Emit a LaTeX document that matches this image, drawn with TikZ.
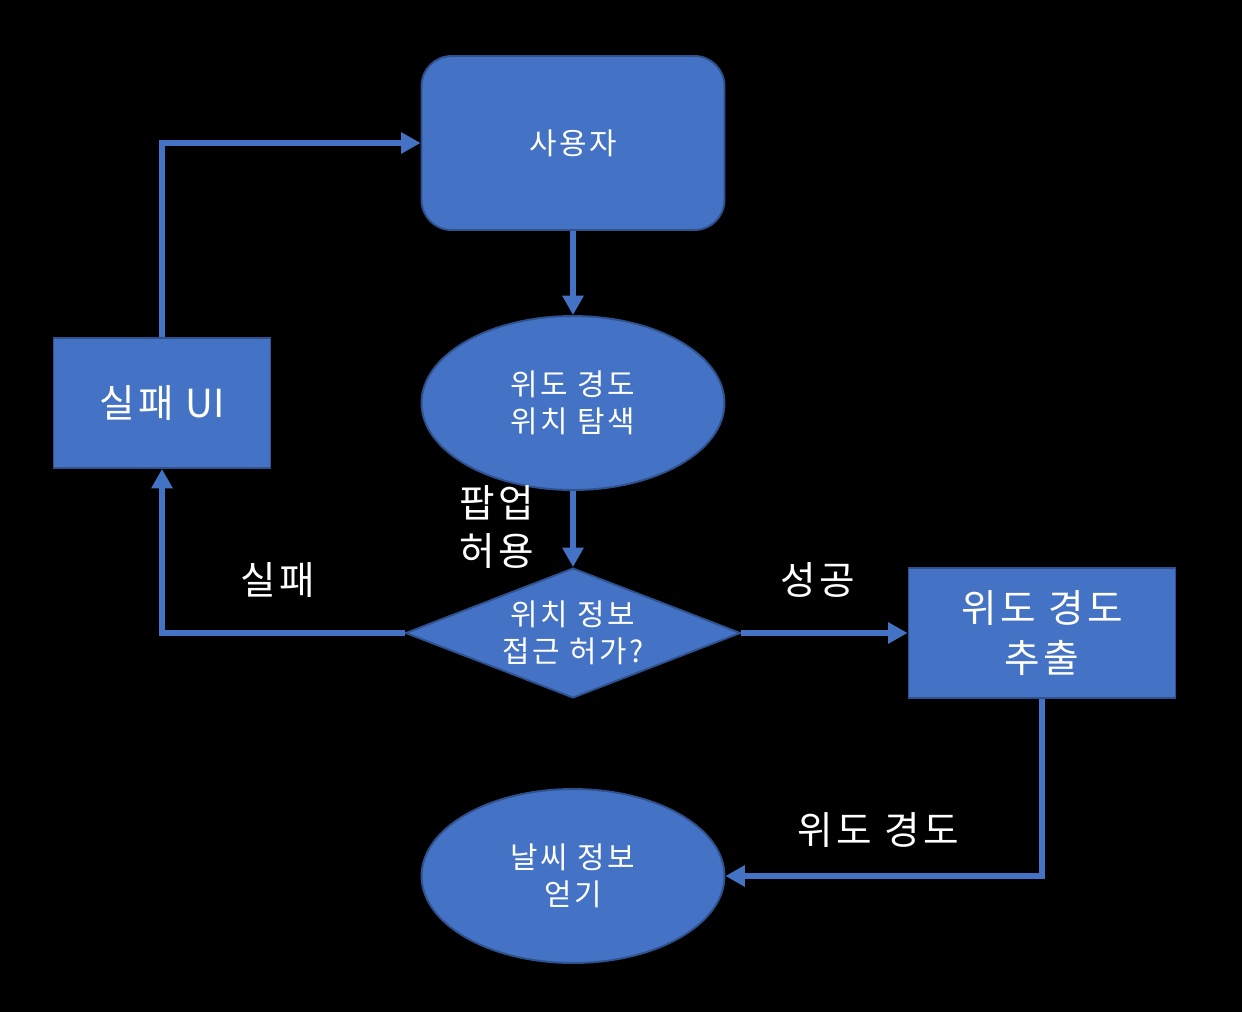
\documentclass[tikz,border=0pt]{standalone}
\usepackage{fontspec}
\setmainfont[LetterSpace=9]{Noto Sans CJK KR}
\newfontfamily\latinpart{Noto Sans CJK KR}
\usetikzlibrary{shapes.geometric, arrows.meta}
\definecolor{boxblue}{HTML}{4472C4}
\definecolor{boxline}{HTML}{2F528F}

\tikzset{
	blockbox/.style={draw=boxline, fill=boxblue, line width=1.1pt, text=white, inner sep=0pt, align=center},
	midfont/.style={font=\fontsize{17}{21}\selectfont},
	bigfont/.style={font=\fontsize{22}{28}\selectfont},
	flow/.style={draw=boxblue, line width=3pt, -{Triangle[length=11pt,width=11.5pt]}},
	flowlabel/.style={text=white, bigfont, inner sep=0pt}
}

\begin{document}
\begin{tikzpicture}[x=0.02cm, y=-0.02cm]
	%background
	\fill[black] (0,0) rectangle (1242,1012);
	
	%shapes
	\node[blockbox, midfont, rectangle, rounded corners=0.6cm, minimum width=6.06cm, minimum height=3.48cm] (user) at (573,143) {사용자};
	\node[blockbox, midfont, ellipse, minimum width=6.06cm, minimum height=3.48cm] (search) at (573,403) {위도 경도\\위치 탐색};
	\node[blockbox, midfont, diamond, aspect=2.58, minimum width=6.7cm, minimum height=2.6cm] (permit) at (573,633) {위치 정보\\접근 허가?};
	\node[blockbox, bigfont, rectangle, minimum width=4.34cm, minimum height=2.6cm] (failui) at (162,403) {실패 {\latinpart UI}};
	\node[blockbox, bigfont, rectangle, minimum width=5.34cm, minimum height=2.6cm] (extract) at (1042,633) {위도 경도\\추출};
	\node[blockbox, midfont, ellipse, minimum width=6.06cm, minimum height=3.48cm] (weather) at (573,876) {날씨 정보\\얻기};
	
	%connectors
	\draw[flow] (user.south) -- (search.north);
	\draw[flow] (search.south) -- (permit.north);
	\draw[flow] (permit.west) -| (failui.south);
	\draw[flow] (failui.north) |- (user.west);
	\draw[flow] (permit.east) -- (extract.west);
	\draw[flow] (extract.south) |- (weather.east);
	
	%labels
	\node[flowlabel, align=left, font=\fontsize{22}{27}\selectfont] (popup) at (497,527) {팝업\\허용};
	\node[flowlabel] (faillabel) at (278,580) {실패};
	\node[flowlabel] (oklabel) at (818,580) {성공};
	\node[flowlabel] (coordlabel) at (878,830) {위도 경도};
\end{tikzpicture}
\end{document}
